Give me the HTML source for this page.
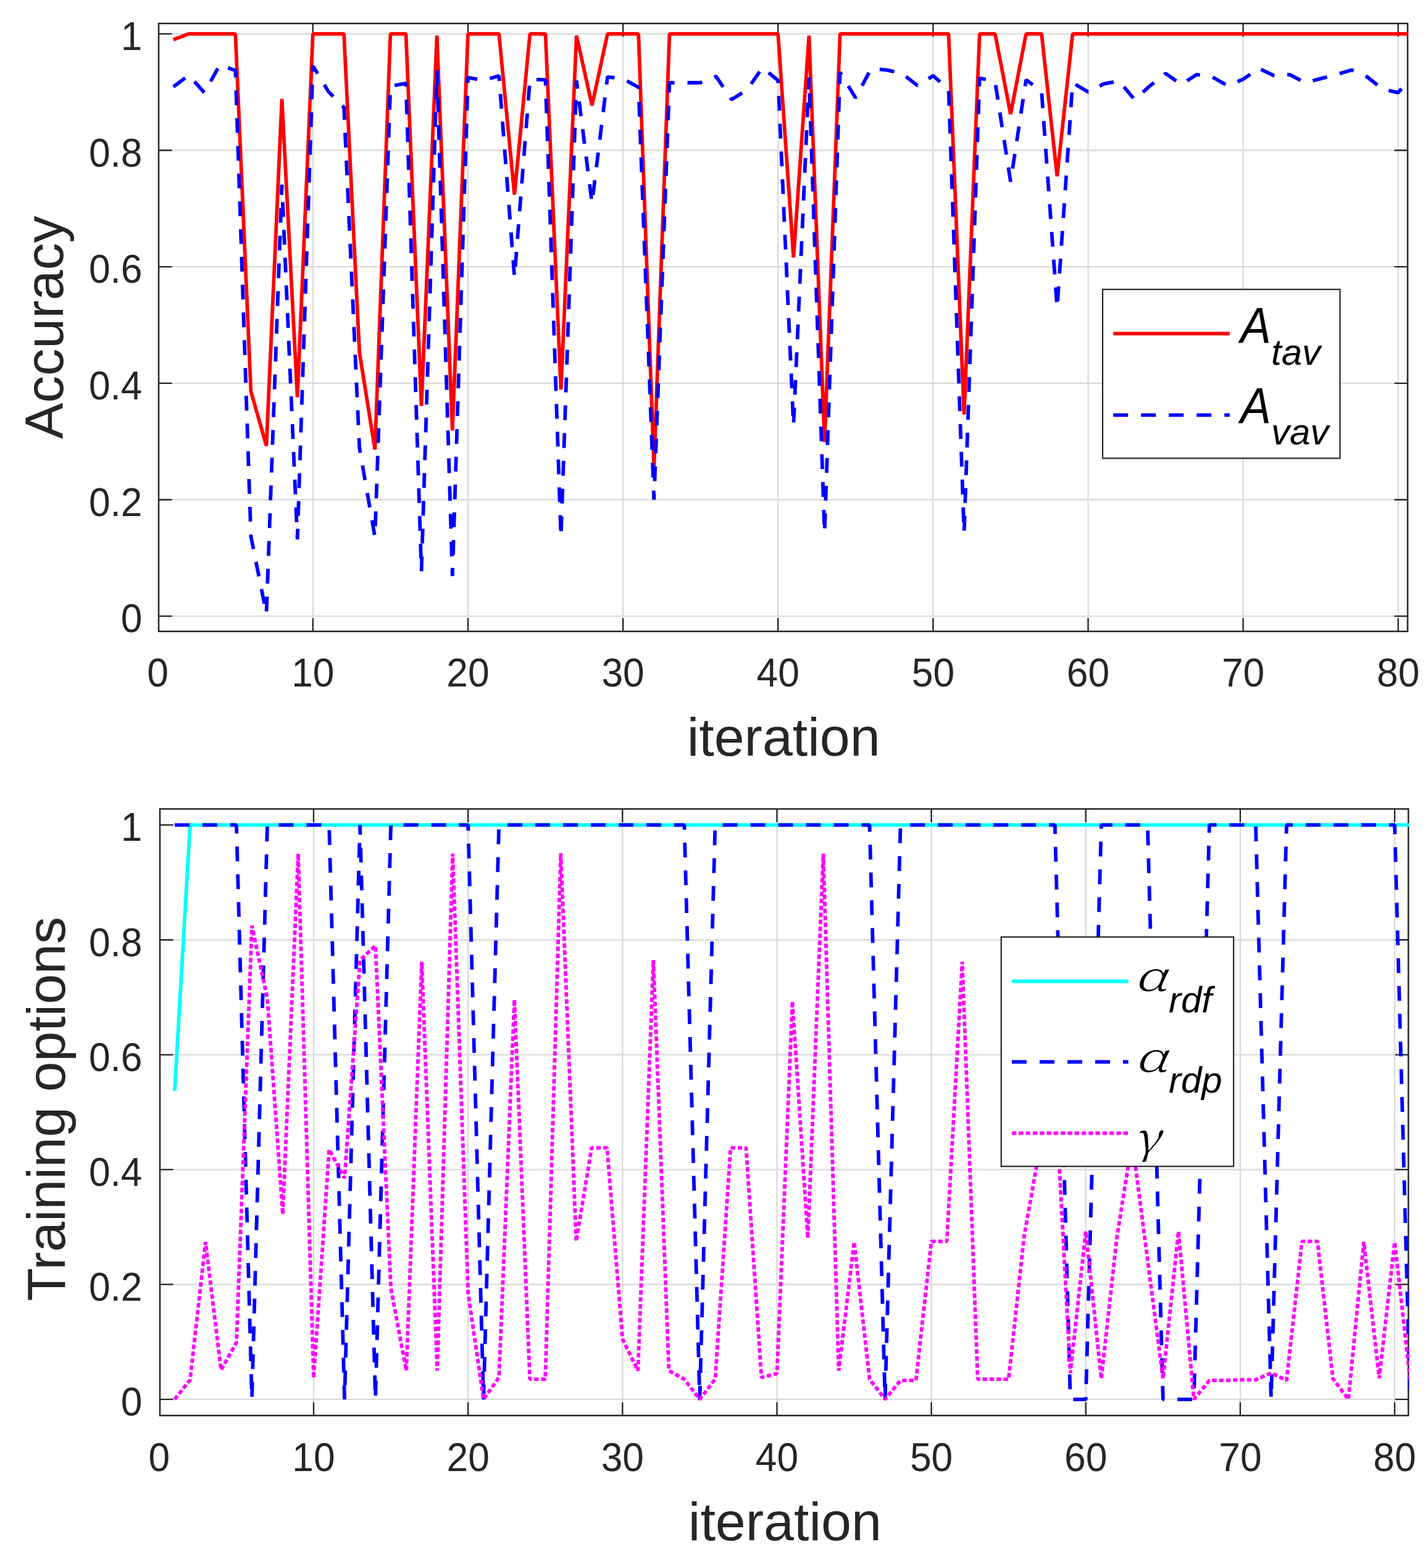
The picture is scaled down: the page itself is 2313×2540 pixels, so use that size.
<!DOCTYPE html>
<html><head><meta charset="utf-8"><title>plot</title><style>
html,body{margin:0;padding:0;background:#fff;}
svg{display:block;}
text{font-family:"Liberation Sans",Arial,Helvetica,sans-serif;}
.tk{font-size:62.3px;fill:#262626;}
.lab{font-size:88px;fill:#262626;}
.lg{font-size:78px;font-style:italic;fill:#000;}
.lgs{font-size:60px;font-style:italic;fill:#000;}
.gk{font-family:"Noto Serif CJK JP","Noto Serif CJK SC","Liberation Serif",serif;font-weight:300;fill:#000;}
</style></head><body>
<svg width="2313" height="2540" viewBox="0 0 2313 2540">
<rect width="2313" height="2540" fill="#fff"/>
<defs></defs>
<clipPath id="c1"><rect x="256.0" y="37.0" width="2025.0" height="986.8"/></clipPath>
<path d="M506.8 38.0V1022.8M758.0 38.0V1022.8M1009.1 38.0V1022.8M1260.2 38.0V1022.8M1511.4 38.0V1022.8M1762.5 38.0V1022.8M2013.6 38.0V1022.8M2264.7 38.0V1022.8M257.0 998.2H2280.0M257.0 809.5H2280.0M257.0 620.8H2280.0M257.0 432.2H2280.0M257.0 243.5H2280.0M257.0 54.8H2280.0" stroke="#dadada" stroke-width="2.3" fill="none"/>
<path d="M506.8 1022.8V1001.3M506.8 38.0V59.5M758.0 1022.8V1001.3M758.0 38.0V59.5M1009.1 1022.8V1001.3M1009.1 38.0V59.5M1260.2 1022.8V1001.3M1260.2 38.0V59.5M1511.4 1022.8V1001.3M1511.4 38.0V59.5M1762.5 1022.8V1001.3M1762.5 38.0V59.5M2013.6 1022.8V1001.3M2013.6 38.0V59.5M2264.7 1022.8V1001.3M2264.7 38.0V59.5M257.0 998.2H278.5M2280.0 998.2H2258.5M257.0 809.5H278.5M2280.0 809.5H2258.5M257.0 620.8H278.5M2280.0 620.8H2258.5M257.0 432.2H278.5M2280.0 432.2H2258.5M257.0 243.5H278.5M2280.0 243.5H2258.5M257.0 54.8H278.5M2280.0 54.8H2258.5" stroke="#262626" stroke-width="2.3" fill="none"/>
<rect x="257.0" y="38.0" width="2023.0" height="984.8" fill="none" stroke="#262626" stroke-width="2.5"/>
<g clip-path="url(#c1)" fill="none" stroke-width="5.8" stroke-linejoin="bevel" stroke-linecap="butt">
<path d="M280.8,64.2 L305.9,54.8 L331.0,54.8 L356.2,54.8 L381.3,54.8 L406.4,634.0 L431.5,722.2 L456.6,160.5 L481.7,643.5 L506.8,54.8 L531.9,54.8 L557.1,54.8 L582.2,570.8 L607.3,728.4 L632.4,54.8 L657.5,54.8 L682.6,657.6 L707.7,57.6 L732.8,697.3 L758.0,54.8 L783.1,54.8 L808.2,54.8 L833.3,315.2 L858.4,54.8 L883.5,54.8 L908.6,631.2 L933.8,57.6 L958.9,170.8 L984.0,54.8 L1009.1,54.8 L1034.2,54.8 L1059.3,757.6 L1084.4,54.8 L1109.5,54.8 L1134.7,54.8 L1159.8,54.8 L1184.9,54.8 L1210.0,54.8 L1235.1,54.8 L1260.2,54.8 L1285.3,417.1 L1310.4,57.6 L1335.6,716.1 L1360.7,54.8 L1385.8,54.8 L1410.9,54.8 L1436.0,54.8 L1461.1,54.8 L1486.2,54.8 L1511.4,54.8 L1536.5,54.8 L1561.6,671.3 L1586.7,54.8 L1611.8,54.8 L1636.9,185.0 L1662.0,54.8 L1687.1,54.8 L1712.3,285.5 L1737.4,54.8 L1762.5,54.8 L1787.6,54.8 L1812.7,54.8 L1837.8,54.8 L1862.9,54.8 L1888.0,54.8 L1913.2,54.8 L1938.3,54.8 L1963.4,54.8 L1988.5,54.8 L2013.6,54.8 L2038.7,54.8 L2063.8,54.8 L2088.9,54.8 L2114.1,54.8 L2139.2,54.8 L2164.3,54.8 L2189.4,54.8 L2214.5,54.8 L2239.6,54.8 L2264.7,54.8 L2289.9,54.8" stroke="#ff0000"/>
<path d="M280.8,140.6 L305.9,121.8 L331.0,150.1 L356.2,104.8 L381.3,114.2 L406.4,869.0 L431.5,994.4 L456.6,299.1 L481.7,873.7 L506.8,106.7 L531.9,148.2 L557.1,173.7 L582.2,725.6 L607.3,869.9 L632.4,139.7 L657.5,135.0 L682.6,925.6 L707.7,114.2 L732.8,933.1 L758.0,125.6 L783.1,130.3 L808.2,122.7 L833.3,449.1 L858.4,128.4 L883.5,129.3 L908.6,869.9 L933.8,130.3 L958.9,329.3 L984.0,124.6 L1009.1,127.4 L1034.2,141.6 L1059.3,809.5 L1084.4,134.0 L1109.5,134.0 L1134.7,134.0 L1159.8,123.7 L1184.9,161.4 L1210.0,145.4 L1235.1,109.5 L1260.2,130.3 L1285.3,689.7 L1310.4,125.6 L1335.6,863.3 L1360.7,117.1 L1385.8,158.6 L1410.9,111.4 L1436.0,113.3 L1461.1,119.0 L1486.2,138.8 L1511.4,122.7 L1536.5,144.4 L1561.6,863.3 L1586.7,126.5 L1611.8,132.2 L1636.9,294.4 L1662.0,129.3 L1687.1,148.2 L1712.3,499.1 L1737.4,134.0 L1762.5,149.1 L1787.6,135.9 L1812.7,131.2 L1837.8,161.4 L1862.9,138.8 L1888.0,119.0 L1913.2,136.9 L1938.3,120.8 L1963.4,124.6 L1988.5,138.8 L2013.6,128.4 L2038.7,110.5 L2063.8,122.7 L2088.9,120.8 L2114.1,134.0 L2139.2,127.4 L2164.3,120.8 L2189.4,113.3 L2214.5,124.6 L2239.6,144.4 L2264.7,150.1 L2289.9,119.9" stroke="#0000ff" stroke-dasharray="24 21"/>
</g>
<text class="tk" x="255.7" y="0.0" text-anchor="middle" transform="translate(0 1112.3) scale(1 1.04) translate(0 0.0)">0</text>
<text class="tk" x="506.8" y="0.0" text-anchor="middle" transform="translate(0 1112.3) scale(1 1.04) translate(0 0.0)">10</text>
<text class="tk" x="758.0" y="0.0" text-anchor="middle" transform="translate(0 1112.3) scale(1 1.04) translate(0 0.0)">20</text>
<text class="tk" x="1009.1" y="0.0" text-anchor="middle" transform="translate(0 1112.3) scale(1 1.04) translate(0 0.0)">30</text>
<text class="tk" x="1260.2" y="0.0" text-anchor="middle" transform="translate(0 1112.3) scale(1 1.04) translate(0 0.0)">40</text>
<text class="tk" x="1511.4" y="0.0" text-anchor="middle" transform="translate(0 1112.3) scale(1 1.04) translate(0 0.0)">50</text>
<text class="tk" x="1762.5" y="0.0" text-anchor="middle" transform="translate(0 1112.3) scale(1 1.04) translate(0 0.0)">60</text>
<text class="tk" x="2013.6" y="0.0" text-anchor="middle" transform="translate(0 1112.3) scale(1 1.04) translate(0 0.0)">70</text>
<text class="tk" x="2264.7" y="0.0" text-anchor="middle" transform="translate(0 1112.3) scale(1 1.04) translate(0 0.0)">80</text>
<text class="tk" x="230.5" y="0" text-anchor="end" transform="translate(0 1024.2) scale(1 1.04)">0</text>
<text class="tk" x="230.5" y="0" text-anchor="end" transform="translate(0 835.5) scale(1 1.04)">0.2</text>
<text class="tk" x="230.5" y="0" text-anchor="end" transform="translate(0 646.8) scale(1 1.04)">0.4</text>
<text class="tk" x="230.5" y="0" text-anchor="end" transform="translate(0 458.2) scale(1 1.04)">0.6</text>
<text class="tk" x="230.5" y="0" text-anchor="end" transform="translate(0 269.5) scale(1 1.04)">0.8</text>
<text class="tk" x="230.5" y="0" text-anchor="end" transform="translate(0 80.8) scale(1 1.04)">1</text>
<clipPath id="c2"><rect x="258.0" y="1309.4" width="2024.2" height="984.6"/></clipPath>
<path d="M508.0 1310.4V2293.0M758.2 1310.4V2293.0M1008.3 1310.4V2293.0M1258.5 1310.4V2293.0M1508.6 1310.4V2293.0M1758.7 1310.4V2293.0M2008.9 1310.4V2293.0M2259.0 1310.4V2293.0M259.0 2266.8H2281.2M259.0 2080.7H2281.2M259.0 1894.6H2281.2M259.0 1708.6H2281.2M259.0 1522.5H2281.2M259.0 1336.4H2281.2" stroke="#dadada" stroke-width="2.3" fill="none"/>
<path d="M508.0 2293.0V2271.5M508.0 1310.4V1331.9M758.2 2293.0V2271.5M758.2 1310.4V1331.9M1008.3 2293.0V2271.5M1008.3 1310.4V1331.9M1258.5 2293.0V2271.5M1258.5 1310.4V1331.9M1508.6 2293.0V2271.5M1508.6 1310.4V1331.9M1758.7 2293.0V2271.5M1758.7 1310.4V1331.9M2008.9 2293.0V2271.5M2008.9 1310.4V1331.9M2259.0 2293.0V2271.5M2259.0 1310.4V1331.9M259.0 2266.8H280.5M2281.2 2266.8H2259.7M259.0 2080.7H280.5M2281.2 2080.7H2259.7M259.0 1894.6H280.5M2281.2 1894.6H2259.7M259.0 1708.6H280.5M2281.2 1708.6H2259.7M259.0 1522.5H280.5M2281.2 1522.5H2259.7M259.0 1336.4H280.5M2281.2 1336.4H2259.7" stroke="#262626" stroke-width="2.3" fill="none"/>
<rect x="259.0" y="1310.4" width="2022.2" height="982.6" fill="none" stroke="#262626" stroke-width="2.5"/>
<g clip-path="url(#c2)" fill="none" stroke-width="5.8" stroke-linejoin="bevel" stroke-linecap="butt">
<path d="M282.9,1767.2 L307.9,1336.4 L332.9,1336.4 L358.0,1336.4 L383.0,1336.4 L408.0,1336.4 L433.0,1336.4 L458.0,1336.4 L483.0,1336.4 L508.0,1336.4 L533.1,1336.4 L558.1,1336.4 L583.1,1336.4 L608.1,1336.4 L633.1,1336.4 L658.1,1336.4 L683.1,1336.4 L708.2,1336.4 L733.2,1336.4 L758.2,1336.4 L783.2,1336.4 L808.2,1336.4 L833.2,1336.4 L858.2,1336.4 L883.2,1336.4 L908.3,1336.4 L933.3,1336.4 L958.3,1336.4 L983.3,1336.4 L1008.3,1336.4 L1033.3,1336.4 L1058.3,1336.4 L1083.4,1336.4 L1108.4,1336.4 L1133.4,1336.4 L1158.4,1336.4 L1183.4,1336.4 L1208.4,1336.4 L1233.4,1336.4 L1258.5,1336.4 L1283.5,1336.4 L1308.5,1336.4 L1333.5,1336.4 L1358.5,1336.4 L1383.5,1336.4 L1408.5,1336.4 L1433.6,1336.4 L1458.6,1336.4 L1483.6,1336.4 L1508.6,1336.4 L1533.6,1336.4 L1558.6,1336.4 L1583.6,1336.4 L1608.7,1336.4 L1633.7,1336.4 L1658.7,1336.4 L1683.7,1336.4 L1708.7,1336.4 L1733.7,1336.4 L1758.7,1336.4 L1783.8,1336.4 L1808.8,1336.4 L1833.8,1336.4 L1858.8,1336.4 L1883.8,1336.4 L1908.8,1336.4 L1933.8,1336.4 L1958.9,1336.4 L1983.9,1336.4 L2008.9,1336.4 L2033.9,1336.4 L2058.9,1336.4 L2083.9,1336.4 L2108.9,1336.4 L2133.9,1336.4 L2159.0,1336.4 L2184.0,1336.4 L2209.0,1336.4 L2234.0,1336.4 L2259.0,1336.4 L2284.0,1336.4" stroke="#00ffff"/>
<path d="M282.9,1336.4 L307.9,1336.4 L332.9,1336.4 L358.0,1336.4 L383.0,1336.4 L408.0,2266.8 L433.0,1336.4 L458.0,1336.4 L483.0,1336.4 L508.0,1336.4 L533.1,1336.4 L558.1,2266.8 L583.1,1336.4 L608.1,2266.8 L633.1,1336.4 L658.1,1336.4 L683.1,1336.4 L708.2,1336.4 L733.2,1336.4 L758.2,1336.4 L783.2,2266.8 L808.2,1336.4 L833.2,1336.4 L858.2,1336.4 L883.2,1336.4 L908.3,1336.4 L933.3,1336.4 L958.3,1336.4 L983.3,1336.4 L1008.3,1336.4 L1033.3,1336.4 L1058.3,1336.4 L1083.4,1336.4 L1108.4,1336.4 L1133.4,2266.8 L1158.4,1336.4 L1183.4,1336.4 L1208.4,1336.4 L1233.4,1336.4 L1258.5,1336.4 L1283.5,1336.4 L1308.5,1336.4 L1333.5,1336.4 L1358.5,1336.4 L1383.5,1336.4 L1408.5,1336.4 L1433.6,2266.8 L1458.6,1336.4 L1483.6,1336.4 L1508.6,1336.4 L1533.6,1336.4 L1558.6,1336.4 L1583.6,1336.4 L1608.7,1336.4 L1633.7,1336.4 L1658.7,1336.4 L1683.7,1336.4 L1708.7,1336.4 L1733.7,2266.8 L1758.7,2266.8 L1783.8,1336.4 L1808.8,1336.4 L1833.8,1336.4 L1858.8,1336.4 L1883.8,2266.8 L1908.8,2266.8 L1933.8,2266.8 L1958.9,1336.4 L1983.9,1336.4 L2008.9,1336.4 L2033.9,1336.4 L2058.9,2266.8 L2083.9,1336.4 L2108.9,1336.4 L2133.9,1336.4 L2159.0,1336.4 L2184.0,1336.4 L2209.0,1336.4 L2234.0,1336.4 L2259.0,1336.4 L2284.0,2266.8" stroke="#0000ff" stroke-dasharray="24 21"/>
<path d="M282.9,2266.8 L307.9,2235.2 L332.9,2011.9 L358.0,2219.3 L383.0,2174.7 L408.0,1499.7 L433.0,1617.4 L458.0,1967.2 L483.0,1382.9 L508.0,2232.4 L533.1,1862.1 L558.1,1908.6 L583.1,1555.5 L608.1,1531.8 L633.1,2087.2 L658.1,2220.3 L683.1,1557.8 L708.2,2220.3 L733.2,1382.9 L758.2,2094.7 L783.2,2266.8 L808.2,2231.4 L833.2,1619.2 L858.2,2234.2 L883.2,2234.2 L908.3,1382.0 L933.3,2010.9 L958.3,1859.3 L983.3,1859.3 L1008.3,2169.1 L1033.3,2220.3 L1058.3,1555.0 L1083.4,2220.3 L1108.4,2234.2 L1133.4,2266.8 L1158.4,2234.2 L1183.4,1859.3 L1208.4,1859.3 L1233.4,2231.4 L1258.5,2224.9 L1283.5,1622.0 L1308.5,2005.8 L1333.5,1382.9 L1358.5,2220.3 L1383.5,2011.9 L1408.5,2234.2 L1433.6,2266.8 L1458.6,2236.1 L1483.6,2236.1 L1508.6,2010.9 L1533.6,2010.9 L1558.6,1557.8 L1583.6,2234.2 L1608.7,2234.2 L1633.7,2234.2 L1658.7,2003.5 L1683.7,1862.1 L1708.7,1755.1 L1733.7,2224.0 L1758.7,1994.6 L1783.8,2233.3 L1808.8,2006.3 L1833.8,1848.1 L1858.8,2040.7 L1883.8,2233.3 L1908.8,1994.6 L1933.8,2266.8 L1958.9,2236.1 L1983.9,2236.1 L2008.9,2235.2 L2033.9,2235.2 L2058.9,2224.0 L2083.9,2236.1 L2108.9,2010.9 L2133.9,2010.9 L2159.0,2233.3 L2184.0,2266.8 L2209.0,2011.9 L2234.0,2232.4 L2259.0,2011.9 L2284.0,2234.2" stroke="#ff00ff" stroke-dasharray="7.3 4"/>
</g>
<text class="tk" x="257.9" y="0.0" text-anchor="middle" transform="translate(0 2382.5) scale(1 1.04) translate(0 0.0)">0</text>
<text class="tk" x="508.0" y="0.0" text-anchor="middle" transform="translate(0 2382.5) scale(1 1.04) translate(0 0.0)">10</text>
<text class="tk" x="758.2" y="0.0" text-anchor="middle" transform="translate(0 2382.5) scale(1 1.04) translate(0 0.0)">20</text>
<text class="tk" x="1008.3" y="0.0" text-anchor="middle" transform="translate(0 2382.5) scale(1 1.04) translate(0 0.0)">30</text>
<text class="tk" x="1258.5" y="0.0" text-anchor="middle" transform="translate(0 2382.5) scale(1 1.04) translate(0 0.0)">40</text>
<text class="tk" x="1508.6" y="0.0" text-anchor="middle" transform="translate(0 2382.5) scale(1 1.04) translate(0 0.0)">50</text>
<text class="tk" x="1758.7" y="0.0" text-anchor="middle" transform="translate(0 2382.5) scale(1 1.04) translate(0 0.0)">60</text>
<text class="tk" x="2008.9" y="0.0" text-anchor="middle" transform="translate(0 2382.5) scale(1 1.04) translate(0 0.0)">70</text>
<text class="tk" x="2259.0" y="0.0" text-anchor="middle" transform="translate(0 2382.5) scale(1 1.04) translate(0 0.0)">80</text>
<text class="tk" x="230.5" y="0" text-anchor="end" transform="translate(0 2292.8) scale(1 1.04)">0</text>
<text class="tk" x="230.5" y="0" text-anchor="end" transform="translate(0 2106.7) scale(1 1.04)">0.2</text>
<text class="tk" x="230.5" y="0" text-anchor="end" transform="translate(0 1920.6) scale(1 1.04)">0.4</text>
<text class="tk" x="230.5" y="0" text-anchor="end" transform="translate(0 1734.6) scale(1 1.04)">0.6</text>
<text class="tk" x="230.5" y="0" text-anchor="end" transform="translate(0 1548.5) scale(1 1.04)">0.8</text>
<text class="tk" x="230.5" y="0" text-anchor="end" transform="translate(0 1362.4) scale(1 1.04)">1</text>
<text class="lab" text-anchor="middle" transform="translate(102.3 530.4) rotate(-90)">Accuracy</text>
<text class="lab" x="1269.2" y="1223.7" text-anchor="middle">iteration</text>
<text class="lab" text-anchor="middle" transform="translate(105 1796.4) rotate(-90)">Training options</text>
<text class="lab" x="1271.4" y="2494.5" text-anchor="middle">iteration</text>
<rect x="1786.0" y="468.8" width="384.4" height="273.6" fill="#fff" stroke="#262626" stroke-width="2.2"/>
<path d="M1803.2 540.4H1991.9" stroke="#ff0000" stroke-width="5.8"/>
<path d="M1803.2 672.4H1991.9" stroke="#0000ff" stroke-width="5.8" stroke-dasharray="24 21"/>
<text class="lg" transform="translate(2009 554.8) scale(0.96 1.05)">A</text><text class="lgs" x="2059" y="590.7">tav</text>
<text class="lg" transform="translate(2009 684.5) scale(0.96 1.05)">A</text><text class="lgs" x="2059" y="720">vav</text>
<rect x="1621.7" y="1517.8" width="376.4" height="371.6" fill="#fff" stroke="#262626" stroke-width="2.2"/>
<path d="M1638.9 1589.7H1827.6" stroke="#00ffff" stroke-width="5.8"/>
<path d="M1638.9 1720.1H1827.6" stroke="#0000ff" stroke-width="5.8" stroke-dasharray="24 21"/>
<path d="M1638.9 1835.6H1827.6" stroke="#ff00ff" stroke-width="5.8" stroke-dasharray="7.3 4"/>
<text class="gk" style="font-size:66.5px" transform="translate(1837.5 1605.1) scale(1.316 1) skewX(-14)">α</text><text class="lgs" x="1893" y="1639.6">rdf</text>
<text class="gk" style="font-size:66.5px" transform="translate(1838.3 1735.6) scale(1.316 1) skewX(-14)">α</text><text class="lgs" x="1893" y="1770">rdp</text>
<text class="gk" style="font-size:70.4px" transform="translate(1836.6 1868.1) scale(1.13 1) skewX(-14)">γ</text>
</svg>
</body></html>
